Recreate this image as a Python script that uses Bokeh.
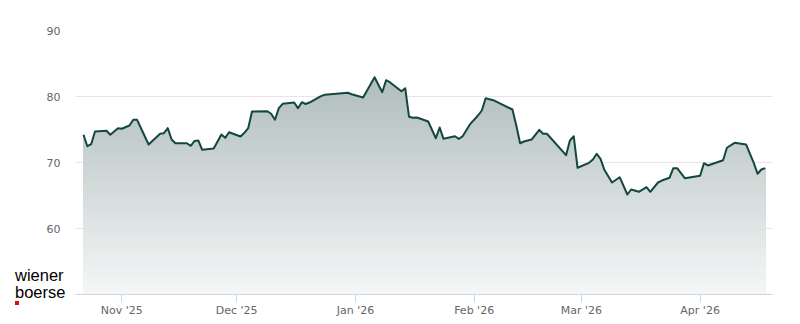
import numpy as np
import pandas as pd
from bokeh.plotting import figure
from bokeh.layouts import column
from bokeh.models import Range1d, FixedTicker, DatetimeTickFormatter, Div
from bokeh.embed import file_html
from bokeh.resources import INLINE

# ---- data ----
dates = [
    "2025-10-22", "2025-10-23", "2025-10-24", "2025-10-25", "2025-10-28", "2025-10-29",
    "2025-10-31", "2025-11-01", "2025-11-03", "2025-11-04", "2025-11-05", "2025-11-08",
    "2025-11-11", "2025-11-12", "2025-11-13", "2025-11-14", "2025-11-15", "2025-11-18",
    "2025-11-19", "2025-11-20", "2025-11-21", "2025-11-22", "2025-11-25", "2025-11-27",
    "2025-11-28", "2025-11-29", "2025-12-02", "2025-12-03", "2025-12-04", "2025-12-05",
    "2025-12-09", "2025-12-10", "2025-12-11", "2025-12-12", "2025-12-13", "2025-12-16",
    "2025-12-17", "2025-12-18", "2025-12-19", "2025-12-20", "2025-12-23", "2025-12-24",
    "2025-12-30", "2025-12-31", "2026-01-03", "2026-01-06", "2026-01-08", "2026-01-09",
    "2026-01-10", "2026-01-13", "2026-01-14", "2026-01-15", "2026-01-16", "2026-01-17",
    "2026-01-18", "2026-01-20", "2026-01-22", "2026-01-23", "2026-01-24", "2026-01-27",
    "2026-01-28", "2026-01-29", "2026-01-31", "2026-02-02", "2026-02-03", "2026-02-04",
    "2026-02-06", "2026-02-11", "2026-02-12", "2026-02-13", "2026-02-14", "2026-02-16",
    "2026-02-18", "2026-02-19", "2026-02-20", "2026-02-25", "2026-02-26", "2026-02-27",
    "2026-02-28", "2026-03-03", "2026-03-04", "2026-03-05", "2026-03-06", "2026-03-07",
    "2026-03-09", "2026-03-11", "2026-03-13", "2026-03-14", "2026-03-16", "2026-03-18",
    "2026-03-19", "2026-03-21", "2026-03-22", "2026-03-24", "2026-03-25", "2026-03-26",
    "2026-03-28", "2026-04-01", "2026-04-02", "2026-04-03", "2026-04-07", "2026-04-08",
    "2026-04-10", "2026-04-13", "2026-04-15", "2026-04-16", "2026-04-17", "2026-04-18",
]
prices = [
    74.20, 72.47, 72.77, 74.70, 74.80, 74.20,
    75.20, 75.11, 75.61, 76.47, 76.47, 72.73,
    74.35, 74.44, 75.20, 73.48, 72.92, 72.92,
    72.53, 73.26, 73.33, 71.92, 72.12, 74.24,
    73.74, 74.59, 73.94, 74.50, 75.20, 77.73,
    77.77, 77.38, 76.47, 78.23, 78.89, 79.09,
    78.23, 79.14, 78.86, 79.09, 80.05, 80.26,
    80.56, 80.35, 79.85, 82.92, 80.65, 82.47,
    82.17, 80.80, 81.26, 76.92, 76.77, 76.82,
    76.62, 76.21, 73.68, 75.30, 73.59, 73.98,
    73.59, 73.98, 75.86, 77.12, 77.88, 79.74,
    79.44, 78.03, 75.61, 72.92, 73.18, 73.48,
    74.95, 74.35, 74.35, 71.11, 73.33, 73.98,
    69.20, 69.95, 70.45, 71.32, 70.56, 68.89,
    66.97, 67.77, 65.15, 65.91, 65.56, 66.26,
    65.56, 66.97, 67.27, 67.68, 69.14, 69.14,
    67.62, 67.98, 69.89, 69.55, 70.35, 72.23,
    72.98, 72.73, 69.95, 68.29, 68.94, 69.14,
]
y_ticks = [60, 70, 80, 90]
x_tick_dates = ["2025-11-01", "2025-12-01", "2026-01-01", "2026-02-01", "2026-03-01", "2026-04-01"]
logo_lines = ["wiener", "boerse"]

# ---- main figure ----
x = pd.to_datetime(dates)
y = np.array(prices, dtype=float)
ref = pd.Timestamp("2025-11-01")
x_start = ref - pd.Timedelta(days=12.09)
x_end = ref + pd.Timedelta(days=169.9)

p = figure(width=800, height=324, output_backend="svg", toolbar_location=None,
           x_axis_type="datetime",
           x_range=Range1d(x_start, x_end), y_range=Range1d(50, 90),
           min_border_left=75, min_border_right=28, min_border_top=30, min_border_bottom=30)
p.outline_line_color = None
p.background_fill_color = "white"
p.border_fill_color = "white"

# gradient fill under the line: overlapping layers, darkest (tallest) first
top_v, bot_v = float(y.max()), 50.0
c_top = np.array([176, 189, 188])
c_bot = np.array([245, 247, 247])
edges = np.arange(bot_v, top_v + 0.25, 0.25)
for lo, hi in reversed(list(zip(edges[:-1], edges[1:]))):
    t = ((lo + hi) / 2 - bot_v) / (top_v - bot_v)
    c = (c_bot + (c_top - c_bot) * t).round().astype(int)
    col = "#%02x%02x%02x" % tuple(c)
    p.varea(x=x, y1=np.full_like(y, bot_v), y2=np.minimum(y, hi), fill_color=col, fill_alpha=1.0)

p.line(x, y, line_color="#13473f", line_width=2, line_join="round")

# axes
p.xgrid.visible = False
p.ygrid.ticker = FixedTicker(ticks=y_ticks)
p.ygrid.grid_line_color = "#e6e6e6"
p.yaxis.ticker = FixedTicker(ticks=y_ticks)
p.yaxis.axis_line_color = None
p.yaxis.major_tick_line_color = None
p.yaxis.minor_tick_line_color = None
p.yaxis.major_tick_out = 0
p.yaxis.major_tick_in = 0
p.yaxis.major_label_standoff = 15
p.yaxis.major_label_text_font = "DejaVu Sans"
p.yaxis.major_label_text_font_size = "11px"
p.yaxis.major_label_text_color = "#666666"

xt = [pd.Timestamp(d).value // 10**6 for d in x_tick_dates]
p.xaxis.ticker = FixedTicker(ticks=xt)
p.xaxis.formatter = DatetimeTickFormatter(days="%b '%y", months="%b '%y", years="%b '%y")
p.xaxis.axis_line_color = "#ccd6eb"
p.xaxis.major_tick_line_color = "#ccd6eb"
p.xaxis.minor_tick_line_color = None
p.xaxis.major_tick_in = 0
p.xaxis.major_tick_out = 8
p.xaxis.major_label_standoff = 1
p.xaxis.major_label_text_font = "DejaVu Sans"
p.xaxis.major_label_text_font_size = "11px"
p.xaxis.major_label_text_color = "#666666"

# ---- logo: a transparent Div pulled up over the bottom-left corner ----
LOGO_TOP = 267
logo_html = (
    "<div style=\"font-family:'Liberation Sans',Arial,sans-serif;font-size:16.5px;"
    "line-height:16.5px;color:#000000;margin:0;padding:0;white-space:nowrap\">"
    + "<br>".join(logo_lines)
    + "<div style=\"width:4px;height:4px;background:#e30613;margin-top:1px\"></div></div>"
)
logo = Div(text=logo_html, width=70, height=52,
           margin=(-(324 - LOGO_TOP), 0, 0, 15))

layout = column(p, logo, spacing=0)
open("out.html", "w").write(file_html(layout, INLINE))
